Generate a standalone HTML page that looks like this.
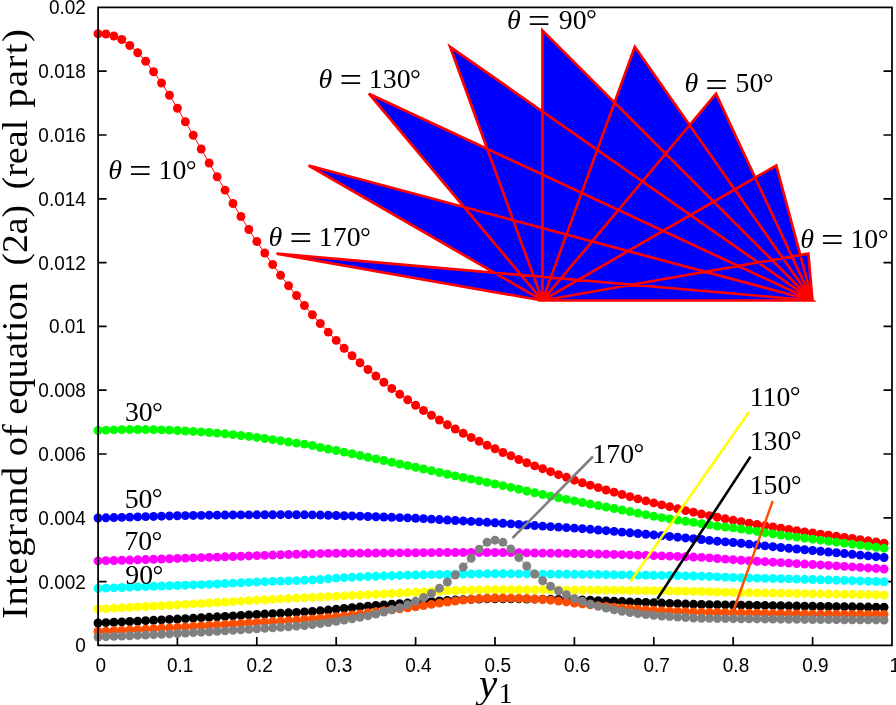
<!DOCTYPE html>
<html><head><meta charset="utf-8"><title>plot</title>
<style>
html,body{margin:0;padding:0;background:#fff;}
body{width:896px;height:705px;overflow:hidden;}
svg{display:block;}
.s,.t{filter:grayscale(1);}
.t{font-family:"Liberation Sans",sans-serif;font-size:19px;fill:#000;}
.s{font-family:"Liberation Serif",serif;fill:#000;}
</style></head><body>
<svg width="896" height="705" viewBox="0 0 896 705">
<rect x="0" y="0" width="896" height="705" fill="#fff"/>
<text class="t" transform="translate(85.9,652.30) scale(1,1.08)" text-anchor="end">0</text>
<text class="t" transform="translate(85.9,588.50) scale(1,1.08)" text-anchor="end">0.002</text>
<text class="t" transform="translate(85.9,524.70) scale(1,1.08)" text-anchor="end">0.004</text>
<text class="t" transform="translate(85.9,460.90) scale(1,1.08)" text-anchor="end">0.006</text>
<text class="t" transform="translate(85.9,397.10) scale(1,1.08)" text-anchor="end">0.008</text>
<text class="t" transform="translate(85.9,333.30) scale(1,1.08)" text-anchor="end">0.01</text>
<text class="t" transform="translate(85.9,269.50) scale(1,1.08)" text-anchor="end">0.012</text>
<text class="t" transform="translate(85.9,205.70) scale(1,1.08)" text-anchor="end">0.014</text>
<text class="t" transform="translate(85.9,141.90) scale(1,1.08)" text-anchor="end">0.016</text>
<text class="t" transform="translate(85.9,78.10) scale(1,1.08)" text-anchor="end">0.018</text>
<text class="t" transform="translate(85.9,14.30) scale(1,1.08)" text-anchor="end">0.02</text>
<text class="t" transform="translate(100.80,672.0) scale(1,1.06)" text-anchor="middle">0</text>
<text class="t" transform="translate(180.20,672.0) scale(1,1.06)" text-anchor="middle">0.1</text>
<text class="t" transform="translate(259.60,672.0) scale(1,1.06)" text-anchor="middle">0.2</text>
<text class="t" transform="translate(339.00,672.0) scale(1,1.06)" text-anchor="middle">0.3</text>
<text class="t" transform="translate(418.40,672.0) scale(1,1.06)" text-anchor="middle">0.4</text>
<text class="t" transform="translate(497.80,672.0) scale(1,1.06)" text-anchor="middle">0.5</text>
<text class="t" transform="translate(577.20,672.0) scale(1,1.06)" text-anchor="middle">0.6</text>
<text class="t" transform="translate(656.60,672.0) scale(1,1.06)" text-anchor="middle">0.7</text>
<text class="t" transform="translate(736.00,672.0) scale(1,1.06)" text-anchor="middle">0.8</text>
<text class="t" transform="translate(815.40,672.0) scale(1,1.06)" text-anchor="middle">0.9</text>
<text class="t" transform="translate(894.80,672.0) scale(1,1.06)" text-anchor="middle">1</text>
<path d="M542.45 300.50L812.45 300.50L808.35 253.61ZM542.45 300.50L812.45 300.50L776.28 165.50ZM542.45 300.50L812.45 300.50L716.00 93.67ZM542.45 300.50L812.45 300.50L634.80 46.78ZM542.45 300.50L812.45 300.50L542.45 30.50ZM542.45 300.50L812.45 300.50L450.10 46.78ZM542.45 300.50L812.45 300.50L368.90 93.67ZM542.45 300.50L812.45 300.50L308.62 165.50ZM542.45 300.50L812.45 300.50L276.55 253.61Z" fill="#0000ff" stroke="none"/>
<path d="M542.45 300.50L812.45 300.50L808.35 253.61ZM542.45 300.50L812.45 300.50L776.28 165.50ZM542.45 300.50L812.45 300.50L716.00 93.67ZM542.45 300.50L812.45 300.50L634.80 46.78ZM542.45 300.50L812.45 300.50L542.45 30.50ZM542.45 300.50L812.45 300.50L450.10 46.78ZM542.45 300.50L812.45 300.50L368.90 93.67ZM542.45 300.50L812.45 300.50L308.62 165.50ZM542.45 300.50L812.45 300.50L276.55 253.61Z" fill="none" stroke="#ff0000" stroke-width="2.7" stroke-linejoin="miter" stroke-miterlimit="4"/>
<path d="M98.1 581.60h8.5M892.0 581.60h-8.5M98.1 517.80h8.5M892.0 517.80h-8.5M98.1 454.00h8.5M892.0 454.00h-8.5M98.1 390.20h8.5M892.0 390.20h-8.5M98.1 326.40h8.5M892.0 326.40h-8.5M98.1 262.60h8.5M892.0 262.60h-8.5M98.1 198.80h8.5M892.0 198.80h-8.5M98.1 135.00h8.5M892.0 135.00h-8.5M98.1 71.20h8.5M892.0 71.20h-8.5M177.40 645.4v-8.5M256.80 645.4v-8.5M336.20 645.4v-8.5M415.60 645.4v-8.5M495.00 645.4v-8.5M574.40 645.4v-8.5M653.80 645.4v-8.5M733.20 645.4v-8.5M812.60 645.4v-8.5" stroke="#000" stroke-width="1.7" fill="none"/>
<g fill="#ff0000" stroke="none"><polyline points="98.00,33.75 105.94,34.00 113.88,36.00 121.82,39.50 129.76,45.50 137.70,52.75 145.64,61.25 153.58,71.75 161.52,83.00 169.46,95.25 177.40,108.25 185.34,121.75 193.28,135.25 201.22,149.00 209.16,163.00 217.10,176.75 225.04,190.10 232.98,203.50 240.92,216.50 248.86,229.50 256.80,241.50 264.74,253.00 272.68,264.50 280.62,275.25 288.56,285.75 296.50,295.50 304.44,305.50 312.38,314.75 320.32,323.50 328.26,332.10 336.20,340.40 344.14,348.25 352.08,355.75 360.02,362.75 367.96,369.50 375.90,376.00 383.84,382.25 391.78,388.50 399.72,394.25 407.66,399.75 415.60,405.25 423.54,410.50 431.48,415.25 439.42,420.00 447.36,424.75 455.30,429.00 463.24,433.25 471.18,437.50 479.12,441.25 487.06,445.25 495.00,448.75 502.94,452.50 510.88,455.75 518.82,459.50 526.76,462.75 534.70,465.90 542.64,468.70 550.58,471.70 558.52,474.70 566.46,477.30 574.40,480.20 582.34,482.80 590.28,485.20 598.22,487.60 606.16,490.00 614.10,492.20 622.04,494.50 629.98,496.70 637.92,498.90 645.86,500.90 653.80,502.90 661.74,504.90 669.68,506.70 677.62,508.80 685.56,510.60 693.50,512.20 701.44,514.00 709.38,515.60 717.32,517.20 725.26,518.78 733.20,520.30 741.14,521.72 749.08,523.10 757.02,524.43 764.96,525.73 772.90,527.00 780.84,528.25 788.78,529.47 796.72,530.67 804.66,531.84 812.60,533.00 820.54,534.12 828.48,535.22 836.42,536.30 844.36,537.38 852.30,538.50 860.24,539.65 868.18,540.81 876.12,542.00 884.06,543.20" fill="none" stroke="#ff0000" stroke-width="1.0"/><circle cx="98.00" cy="33.75" r="4.45"/><circle cx="105.94" cy="34.00" r="4.45"/><circle cx="113.88" cy="36.00" r="4.45"/><circle cx="121.82" cy="39.50" r="4.45"/><circle cx="129.76" cy="45.50" r="4.45"/><circle cx="137.70" cy="52.75" r="4.45"/><circle cx="145.64" cy="61.25" r="4.45"/><circle cx="153.58" cy="71.75" r="4.45"/><circle cx="161.52" cy="83.00" r="4.45"/><circle cx="169.46" cy="95.25" r="4.45"/><circle cx="177.40" cy="108.25" r="4.45"/><circle cx="185.34" cy="121.75" r="4.45"/><circle cx="193.28" cy="135.25" r="4.45"/><circle cx="201.22" cy="149.00" r="4.45"/><circle cx="209.16" cy="163.00" r="4.45"/><circle cx="217.10" cy="176.75" r="4.45"/><circle cx="225.04" cy="190.10" r="4.45"/><circle cx="232.98" cy="203.50" r="4.45"/><circle cx="240.92" cy="216.50" r="4.45"/><circle cx="248.86" cy="229.50" r="4.45"/><circle cx="256.80" cy="241.50" r="4.45"/><circle cx="264.74" cy="253.00" r="4.45"/><circle cx="272.68" cy="264.50" r="4.45"/><circle cx="280.62" cy="275.25" r="4.45"/><circle cx="288.56" cy="285.75" r="4.45"/><circle cx="296.50" cy="295.50" r="4.45"/><circle cx="304.44" cy="305.50" r="4.45"/><circle cx="312.38" cy="314.75" r="4.45"/><circle cx="320.32" cy="323.50" r="4.45"/><circle cx="328.26" cy="332.10" r="4.45"/><circle cx="336.20" cy="340.40" r="4.45"/><circle cx="344.14" cy="348.25" r="4.45"/><circle cx="352.08" cy="355.75" r="4.45"/><circle cx="360.02" cy="362.75" r="4.45"/><circle cx="367.96" cy="369.50" r="4.45"/><circle cx="375.90" cy="376.00" r="4.45"/><circle cx="383.84" cy="382.25" r="4.45"/><circle cx="391.78" cy="388.50" r="4.45"/><circle cx="399.72" cy="394.25" r="4.45"/><circle cx="407.66" cy="399.75" r="4.45"/><circle cx="415.60" cy="405.25" r="4.45"/><circle cx="423.54" cy="410.50" r="4.45"/><circle cx="431.48" cy="415.25" r="4.45"/><circle cx="439.42" cy="420.00" r="4.45"/><circle cx="447.36" cy="424.75" r="4.45"/><circle cx="455.30" cy="429.00" r="4.45"/><circle cx="463.24" cy="433.25" r="4.45"/><circle cx="471.18" cy="437.50" r="4.45"/><circle cx="479.12" cy="441.25" r="4.45"/><circle cx="487.06" cy="445.25" r="4.45"/><circle cx="495.00" cy="448.75" r="4.45"/><circle cx="502.94" cy="452.50" r="4.45"/><circle cx="510.88" cy="455.75" r="4.45"/><circle cx="518.82" cy="459.50" r="4.45"/><circle cx="526.76" cy="462.75" r="4.45"/><circle cx="534.70" cy="465.90" r="4.45"/><circle cx="542.64" cy="468.70" r="4.45"/><circle cx="550.58" cy="471.70" r="4.45"/><circle cx="558.52" cy="474.70" r="4.45"/><circle cx="566.46" cy="477.30" r="4.45"/><circle cx="574.40" cy="480.20" r="4.45"/><circle cx="582.34" cy="482.80" r="4.45"/><circle cx="590.28" cy="485.20" r="4.45"/><circle cx="598.22" cy="487.60" r="4.45"/><circle cx="606.16" cy="490.00" r="4.45"/><circle cx="614.10" cy="492.20" r="4.45"/><circle cx="622.04" cy="494.50" r="4.45"/><circle cx="629.98" cy="496.70" r="4.45"/><circle cx="637.92" cy="498.90" r="4.45"/><circle cx="645.86" cy="500.90" r="4.45"/><circle cx="653.80" cy="502.90" r="4.45"/><circle cx="661.74" cy="504.90" r="4.45"/><circle cx="669.68" cy="506.70" r="4.45"/><circle cx="677.62" cy="508.80" r="4.45"/><circle cx="685.56" cy="510.60" r="4.45"/><circle cx="693.50" cy="512.20" r="4.45"/><circle cx="701.44" cy="514.00" r="4.45"/><circle cx="709.38" cy="515.60" r="4.45"/><circle cx="717.32" cy="517.20" r="4.45"/><circle cx="725.26" cy="518.78" r="4.45"/><circle cx="733.20" cy="520.30" r="4.45"/><circle cx="741.14" cy="521.72" r="4.45"/><circle cx="749.08" cy="523.10" r="4.45"/><circle cx="757.02" cy="524.43" r="4.45"/><circle cx="764.96" cy="525.73" r="4.45"/><circle cx="772.90" cy="527.00" r="4.45"/><circle cx="780.84" cy="528.25" r="4.45"/><circle cx="788.78" cy="529.47" r="4.45"/><circle cx="796.72" cy="530.67" r="4.45"/><circle cx="804.66" cy="531.84" r="4.45"/><circle cx="812.60" cy="533.00" r="4.45"/><circle cx="820.54" cy="534.12" r="4.45"/><circle cx="828.48" cy="535.22" r="4.45"/><circle cx="836.42" cy="536.30" r="4.45"/><circle cx="844.36" cy="537.38" r="4.45"/><circle cx="852.30" cy="538.50" r="4.45"/><circle cx="860.24" cy="539.65" r="4.45"/><circle cx="868.18" cy="540.81" r="4.45"/><circle cx="876.12" cy="542.00" r="4.45"/><circle cx="884.06" cy="543.20" r="4.45"/></g>
<g fill="#00ff00" stroke="none"><polyline points="98.00,430.50 105.94,430.16 113.88,429.90 121.82,429.71 129.76,429.56 137.70,429.50 145.64,429.56 153.58,429.71 161.52,429.90 169.46,430.17 177.40,430.54 185.34,430.98 193.28,431.43 201.22,431.93 209.16,432.48 217.10,433.10 225.04,433.81 232.98,434.63 240.92,435.50 248.86,436.43 256.80,437.44 264.74,438.50 272.68,439.63 280.62,440.81 288.56,442.00 296.50,443.08 304.44,444.17 312.38,445.50 320.32,447.50 328.26,449.05 336.20,450.50 344.14,452.09 352.08,453.75 360.02,455.50 367.96,457.25 375.90,458.88 383.84,460.50 391.78,462.25 399.72,464.00 407.66,465.62 415.60,467.25 423.54,468.98 431.48,470.75 439.42,472.52 447.36,474.25 455.30,475.89 463.24,477.50 471.18,479.12 479.12,480.75 487.06,482.36 495.00,484.00 502.94,485.70 510.88,487.45 518.82,489.20 526.76,490.98 534.70,492.77 542.64,494.50 550.58,496.16 558.52,497.79 566.46,499.38 574.40,500.95 582.34,502.50 590.28,504.03 598.22,505.53 606.16,507.02 614.10,508.50 622.04,510.00 629.98,511.54 637.92,513.12 645.86,514.68 653.80,516.19 661.74,517.60 669.68,518.89 677.62,520.09 685.56,521.25 693.50,522.40 701.44,523.60 709.38,524.90 717.32,526.10 725.26,527.01 733.20,527.90 741.14,528.99 749.08,530.20 757.02,531.46 764.96,532.72 772.90,533.90 780.84,535.01 788.78,536.09 796.72,537.14 804.66,538.18 812.60,539.20 820.54,540.20 828.48,541.17 836.42,542.13 844.36,543.10 852.30,544.10 860.24,545.12 868.18,546.17 876.12,547.23 884.06,548.30" fill="none" stroke="#00ff00" stroke-width="1.0"/><circle cx="98.00" cy="430.50" r="4.45"/><circle cx="105.94" cy="430.16" r="4.45"/><circle cx="113.88" cy="429.90" r="4.45"/><circle cx="121.82" cy="429.71" r="4.45"/><circle cx="129.76" cy="429.56" r="4.45"/><circle cx="137.70" cy="429.50" r="4.45"/><circle cx="145.64" cy="429.56" r="4.45"/><circle cx="153.58" cy="429.71" r="4.45"/><circle cx="161.52" cy="429.90" r="4.45"/><circle cx="169.46" cy="430.17" r="4.45"/><circle cx="177.40" cy="430.54" r="4.45"/><circle cx="185.34" cy="430.98" r="4.45"/><circle cx="193.28" cy="431.43" r="4.45"/><circle cx="201.22" cy="431.93" r="4.45"/><circle cx="209.16" cy="432.48" r="4.45"/><circle cx="217.10" cy="433.10" r="4.45"/><circle cx="225.04" cy="433.81" r="4.45"/><circle cx="232.98" cy="434.63" r="4.45"/><circle cx="240.92" cy="435.50" r="4.45"/><circle cx="248.86" cy="436.43" r="4.45"/><circle cx="256.80" cy="437.44" r="4.45"/><circle cx="264.74" cy="438.50" r="4.45"/><circle cx="272.68" cy="439.63" r="4.45"/><circle cx="280.62" cy="440.81" r="4.45"/><circle cx="288.56" cy="442.00" r="4.45"/><circle cx="296.50" cy="443.08" r="4.45"/><circle cx="304.44" cy="444.17" r="4.45"/><circle cx="312.38" cy="445.50" r="4.45"/><circle cx="320.32" cy="447.50" r="4.45"/><circle cx="328.26" cy="449.05" r="4.45"/><circle cx="336.20" cy="450.50" r="4.45"/><circle cx="344.14" cy="452.09" r="4.45"/><circle cx="352.08" cy="453.75" r="4.45"/><circle cx="360.02" cy="455.50" r="4.45"/><circle cx="367.96" cy="457.25" r="4.45"/><circle cx="375.90" cy="458.88" r="4.45"/><circle cx="383.84" cy="460.50" r="4.45"/><circle cx="391.78" cy="462.25" r="4.45"/><circle cx="399.72" cy="464.00" r="4.45"/><circle cx="407.66" cy="465.62" r="4.45"/><circle cx="415.60" cy="467.25" r="4.45"/><circle cx="423.54" cy="468.98" r="4.45"/><circle cx="431.48" cy="470.75" r="4.45"/><circle cx="439.42" cy="472.52" r="4.45"/><circle cx="447.36" cy="474.25" r="4.45"/><circle cx="455.30" cy="475.89" r="4.45"/><circle cx="463.24" cy="477.50" r="4.45"/><circle cx="471.18" cy="479.12" r="4.45"/><circle cx="479.12" cy="480.75" r="4.45"/><circle cx="487.06" cy="482.36" r="4.45"/><circle cx="495.00" cy="484.00" r="4.45"/><circle cx="502.94" cy="485.70" r="4.45"/><circle cx="510.88" cy="487.45" r="4.45"/><circle cx="518.82" cy="489.20" r="4.45"/><circle cx="526.76" cy="490.98" r="4.45"/><circle cx="534.70" cy="492.77" r="4.45"/><circle cx="542.64" cy="494.50" r="4.45"/><circle cx="550.58" cy="496.16" r="4.45"/><circle cx="558.52" cy="497.79" r="4.45"/><circle cx="566.46" cy="499.38" r="4.45"/><circle cx="574.40" cy="500.95" r="4.45"/><circle cx="582.34" cy="502.50" r="4.45"/><circle cx="590.28" cy="504.03" r="4.45"/><circle cx="598.22" cy="505.53" r="4.45"/><circle cx="606.16" cy="507.02" r="4.45"/><circle cx="614.10" cy="508.50" r="4.45"/><circle cx="622.04" cy="510.00" r="4.45"/><circle cx="629.98" cy="511.54" r="4.45"/><circle cx="637.92" cy="513.12" r="4.45"/><circle cx="645.86" cy="514.68" r="4.45"/><circle cx="653.80" cy="516.19" r="4.45"/><circle cx="661.74" cy="517.60" r="4.45"/><circle cx="669.68" cy="518.89" r="4.45"/><circle cx="677.62" cy="520.09" r="4.45"/><circle cx="685.56" cy="521.25" r="4.45"/><circle cx="693.50" cy="522.40" r="4.45"/><circle cx="701.44" cy="523.60" r="4.45"/><circle cx="709.38" cy="524.90" r="4.45"/><circle cx="717.32" cy="526.10" r="4.45"/><circle cx="725.26" cy="527.01" r="4.45"/><circle cx="733.20" cy="527.90" r="4.45"/><circle cx="741.14" cy="528.99" r="4.45"/><circle cx="749.08" cy="530.20" r="4.45"/><circle cx="757.02" cy="531.46" r="4.45"/><circle cx="764.96" cy="532.72" r="4.45"/><circle cx="772.90" cy="533.90" r="4.45"/><circle cx="780.84" cy="535.01" r="4.45"/><circle cx="788.78" cy="536.09" r="4.45"/><circle cx="796.72" cy="537.14" r="4.45"/><circle cx="804.66" cy="538.18" r="4.45"/><circle cx="812.60" cy="539.20" r="4.45"/><circle cx="820.54" cy="540.20" r="4.45"/><circle cx="828.48" cy="541.17" r="4.45"/><circle cx="836.42" cy="542.13" r="4.45"/><circle cx="844.36" cy="543.10" r="4.45"/><circle cx="852.30" cy="544.10" r="4.45"/><circle cx="860.24" cy="545.12" r="4.45"/><circle cx="868.18" cy="546.17" r="4.45"/><circle cx="876.12" cy="547.23" r="4.45"/><circle cx="884.06" cy="548.30" r="4.45"/></g>
<g fill="#0000ff" stroke="none"><polyline points="98.00,518.00 105.94,517.78 113.88,517.56 121.82,517.34 129.76,517.12 137.70,516.90 145.64,516.67 153.58,516.44 161.52,516.20 169.46,515.97 177.40,515.76 185.34,515.59 193.28,515.45 201.22,515.33 209.16,515.22 217.10,515.12 225.04,515.03 232.98,514.96 240.92,514.90 248.86,514.85 256.80,514.80 264.74,514.76 272.68,514.73 280.62,514.71 288.56,514.70 296.50,514.73 304.44,514.80 312.38,514.90 320.32,515.05 328.26,515.27 336.20,515.50 344.14,515.73 352.08,515.97 360.02,516.22 367.96,516.48 375.90,516.75 383.84,517.02 391.78,517.30 399.72,517.59 407.66,517.91 415.60,518.25 423.54,518.64 431.48,519.08 439.42,519.55 447.36,520.03 455.30,520.50 463.24,520.95 471.18,521.40 479.12,521.85 487.06,522.31 495.00,522.80 502.94,523.32 510.88,523.86 518.82,524.42 526.76,524.99 534.70,525.55 542.64,526.10 550.58,526.62 558.52,527.12 566.46,527.62 574.40,528.14 582.34,528.70 590.28,529.32 598.22,529.99 606.16,530.68 614.10,531.39 622.04,532.10 629.98,532.80 637.92,533.52 645.86,534.24 653.80,534.96 661.74,535.70 669.68,536.44 677.62,537.18 685.56,537.93 693.50,538.71 701.44,539.50 709.38,540.37 717.32,541.20 725.26,541.85 733.20,542.50 741.14,543.27 749.08,544.11 757.02,544.99 764.96,545.87 772.90,546.70 780.84,547.48 788.78,548.25 796.72,549.00 804.66,549.75 812.60,550.50 820.54,551.26 828.48,552.01 836.42,552.77 844.36,553.53 852.30,554.30 860.24,555.09 868.18,555.88 876.12,556.69 884.06,557.50" fill="none" stroke="#0000ff" stroke-width="1.0"/><circle cx="98.00" cy="518.00" r="4.45"/><circle cx="105.94" cy="517.78" r="4.45"/><circle cx="113.88" cy="517.56" r="4.45"/><circle cx="121.82" cy="517.34" r="4.45"/><circle cx="129.76" cy="517.12" r="4.45"/><circle cx="137.70" cy="516.90" r="4.45"/><circle cx="145.64" cy="516.67" r="4.45"/><circle cx="153.58" cy="516.44" r="4.45"/><circle cx="161.52" cy="516.20" r="4.45"/><circle cx="169.46" cy="515.97" r="4.45"/><circle cx="177.40" cy="515.76" r="4.45"/><circle cx="185.34" cy="515.59" r="4.45"/><circle cx="193.28" cy="515.45" r="4.45"/><circle cx="201.22" cy="515.33" r="4.45"/><circle cx="209.16" cy="515.22" r="4.45"/><circle cx="217.10" cy="515.12" r="4.45"/><circle cx="225.04" cy="515.03" r="4.45"/><circle cx="232.98" cy="514.96" r="4.45"/><circle cx="240.92" cy="514.90" r="4.45"/><circle cx="248.86" cy="514.85" r="4.45"/><circle cx="256.80" cy="514.80" r="4.45"/><circle cx="264.74" cy="514.76" r="4.45"/><circle cx="272.68" cy="514.73" r="4.45"/><circle cx="280.62" cy="514.71" r="4.45"/><circle cx="288.56" cy="514.70" r="4.45"/><circle cx="296.50" cy="514.73" r="4.45"/><circle cx="304.44" cy="514.80" r="4.45"/><circle cx="312.38" cy="514.90" r="4.45"/><circle cx="320.32" cy="515.05" r="4.45"/><circle cx="328.26" cy="515.27" r="4.45"/><circle cx="336.20" cy="515.50" r="4.45"/><circle cx="344.14" cy="515.73" r="4.45"/><circle cx="352.08" cy="515.97" r="4.45"/><circle cx="360.02" cy="516.22" r="4.45"/><circle cx="367.96" cy="516.48" r="4.45"/><circle cx="375.90" cy="516.75" r="4.45"/><circle cx="383.84" cy="517.02" r="4.45"/><circle cx="391.78" cy="517.30" r="4.45"/><circle cx="399.72" cy="517.59" r="4.45"/><circle cx="407.66" cy="517.91" r="4.45"/><circle cx="415.60" cy="518.25" r="4.45"/><circle cx="423.54" cy="518.64" r="4.45"/><circle cx="431.48" cy="519.08" r="4.45"/><circle cx="439.42" cy="519.55" r="4.45"/><circle cx="447.36" cy="520.03" r="4.45"/><circle cx="455.30" cy="520.50" r="4.45"/><circle cx="463.24" cy="520.95" r="4.45"/><circle cx="471.18" cy="521.40" r="4.45"/><circle cx="479.12" cy="521.85" r="4.45"/><circle cx="487.06" cy="522.31" r="4.45"/><circle cx="495.00" cy="522.80" r="4.45"/><circle cx="502.94" cy="523.32" r="4.45"/><circle cx="510.88" cy="523.86" r="4.45"/><circle cx="518.82" cy="524.42" r="4.45"/><circle cx="526.76" cy="524.99" r="4.45"/><circle cx="534.70" cy="525.55" r="4.45"/><circle cx="542.64" cy="526.10" r="4.45"/><circle cx="550.58" cy="526.62" r="4.45"/><circle cx="558.52" cy="527.12" r="4.45"/><circle cx="566.46" cy="527.62" r="4.45"/><circle cx="574.40" cy="528.14" r="4.45"/><circle cx="582.34" cy="528.70" r="4.45"/><circle cx="590.28" cy="529.32" r="4.45"/><circle cx="598.22" cy="529.99" r="4.45"/><circle cx="606.16" cy="530.68" r="4.45"/><circle cx="614.10" cy="531.39" r="4.45"/><circle cx="622.04" cy="532.10" r="4.45"/><circle cx="629.98" cy="532.80" r="4.45"/><circle cx="637.92" cy="533.52" r="4.45"/><circle cx="645.86" cy="534.24" r="4.45"/><circle cx="653.80" cy="534.96" r="4.45"/><circle cx="661.74" cy="535.70" r="4.45"/><circle cx="669.68" cy="536.44" r="4.45"/><circle cx="677.62" cy="537.18" r="4.45"/><circle cx="685.56" cy="537.93" r="4.45"/><circle cx="693.50" cy="538.71" r="4.45"/><circle cx="701.44" cy="539.50" r="4.45"/><circle cx="709.38" cy="540.37" r="4.45"/><circle cx="717.32" cy="541.20" r="4.45"/><circle cx="725.26" cy="541.85" r="4.45"/><circle cx="733.20" cy="542.50" r="4.45"/><circle cx="741.14" cy="543.27" r="4.45"/><circle cx="749.08" cy="544.11" r="4.45"/><circle cx="757.02" cy="544.99" r="4.45"/><circle cx="764.96" cy="545.87" r="4.45"/><circle cx="772.90" cy="546.70" r="4.45"/><circle cx="780.84" cy="547.48" r="4.45"/><circle cx="788.78" cy="548.25" r="4.45"/><circle cx="796.72" cy="549.00" r="4.45"/><circle cx="804.66" cy="549.75" r="4.45"/><circle cx="812.60" cy="550.50" r="4.45"/><circle cx="820.54" cy="551.26" r="4.45"/><circle cx="828.48" cy="552.01" r="4.45"/><circle cx="836.42" cy="552.77" r="4.45"/><circle cx="844.36" cy="553.53" r="4.45"/><circle cx="852.30" cy="554.30" r="4.45"/><circle cx="860.24" cy="555.09" r="4.45"/><circle cx="868.18" cy="555.88" r="4.45"/><circle cx="876.12" cy="556.69" r="4.45"/><circle cx="884.06" cy="557.50" r="4.45"/></g>
<g fill="#ff00ff" stroke="none"><polyline points="98.00,560.90 105.94,560.70 113.88,560.49 121.82,560.27 129.76,560.04 137.70,559.80 145.64,559.55 153.58,559.28 161.52,559.01 169.46,558.73 177.40,558.45 185.34,558.17 193.28,557.89 201.22,557.62 209.16,557.35 217.10,557.08 225.04,556.81 232.98,556.53 240.92,556.25 248.86,555.96 256.80,555.66 264.74,555.36 272.68,555.06 280.62,554.77 288.56,554.50 296.50,554.25 304.44,554.02 312.38,553.80 320.32,553.58 328.26,553.38 336.20,553.25 344.14,553.18 352.08,553.13 360.02,553.08 367.96,553.04 375.90,553.00 383.84,552.95 391.78,552.90 399.72,552.85 407.66,552.80 415.60,552.75 423.54,552.69 431.48,552.63 439.42,552.56 447.36,552.52 455.30,552.50 463.24,552.50 471.18,552.50 479.12,552.50 487.06,552.50 495.00,552.50 502.94,552.53 510.88,552.61 518.82,552.73 526.76,552.86 534.70,552.99 542.64,553.10 550.58,553.19 558.52,553.28 566.46,553.37 574.40,553.48 582.34,553.60 590.28,553.77 598.22,553.98 606.16,554.21 614.10,554.46 622.04,554.70 629.98,554.93 637.92,555.16 645.86,555.40 653.80,555.64 661.74,555.90 669.68,556.16 677.62,556.43 685.56,556.71 693.50,557.03 701.44,557.40 709.38,557.88 717.32,558.48 725.26,559.11 733.20,559.70 741.14,560.23 749.08,560.74 757.02,561.23 764.96,561.72 772.90,562.20 780.84,562.67 788.78,563.13 796.72,563.58 804.66,564.04 812.60,564.50 820.54,564.97 828.48,565.44 836.42,565.92 844.36,566.40 852.30,566.90 860.24,567.41 868.18,567.93 876.12,568.46 884.06,569.00" fill="none" stroke="#ff00ff" stroke-width="1.0"/><circle cx="98.00" cy="560.90" r="4.45"/><circle cx="105.94" cy="560.70" r="4.45"/><circle cx="113.88" cy="560.49" r="4.45"/><circle cx="121.82" cy="560.27" r="4.45"/><circle cx="129.76" cy="560.04" r="4.45"/><circle cx="137.70" cy="559.80" r="4.45"/><circle cx="145.64" cy="559.55" r="4.45"/><circle cx="153.58" cy="559.28" r="4.45"/><circle cx="161.52" cy="559.01" r="4.45"/><circle cx="169.46" cy="558.73" r="4.45"/><circle cx="177.40" cy="558.45" r="4.45"/><circle cx="185.34" cy="558.17" r="4.45"/><circle cx="193.28" cy="557.89" r="4.45"/><circle cx="201.22" cy="557.62" r="4.45"/><circle cx="209.16" cy="557.35" r="4.45"/><circle cx="217.10" cy="557.08" r="4.45"/><circle cx="225.04" cy="556.81" r="4.45"/><circle cx="232.98" cy="556.53" r="4.45"/><circle cx="240.92" cy="556.25" r="4.45"/><circle cx="248.86" cy="555.96" r="4.45"/><circle cx="256.80" cy="555.66" r="4.45"/><circle cx="264.74" cy="555.36" r="4.45"/><circle cx="272.68" cy="555.06" r="4.45"/><circle cx="280.62" cy="554.77" r="4.45"/><circle cx="288.56" cy="554.50" r="4.45"/><circle cx="296.50" cy="554.25" r="4.45"/><circle cx="304.44" cy="554.02" r="4.45"/><circle cx="312.38" cy="553.80" r="4.45"/><circle cx="320.32" cy="553.58" r="4.45"/><circle cx="328.26" cy="553.38" r="4.45"/><circle cx="336.20" cy="553.25" r="4.45"/><circle cx="344.14" cy="553.18" r="4.45"/><circle cx="352.08" cy="553.13" r="4.45"/><circle cx="360.02" cy="553.08" r="4.45"/><circle cx="367.96" cy="553.04" r="4.45"/><circle cx="375.90" cy="553.00" r="4.45"/><circle cx="383.84" cy="552.95" r="4.45"/><circle cx="391.78" cy="552.90" r="4.45"/><circle cx="399.72" cy="552.85" r="4.45"/><circle cx="407.66" cy="552.80" r="4.45"/><circle cx="415.60" cy="552.75" r="4.45"/><circle cx="423.54" cy="552.69" r="4.45"/><circle cx="431.48" cy="552.63" r="4.45"/><circle cx="439.42" cy="552.56" r="4.45"/><circle cx="447.36" cy="552.52" r="4.45"/><circle cx="455.30" cy="552.50" r="4.45"/><circle cx="463.24" cy="552.50" r="4.45"/><circle cx="471.18" cy="552.50" r="4.45"/><circle cx="479.12" cy="552.50" r="4.45"/><circle cx="487.06" cy="552.50" r="4.45"/><circle cx="495.00" cy="552.50" r="4.45"/><circle cx="502.94" cy="552.53" r="4.45"/><circle cx="510.88" cy="552.61" r="4.45"/><circle cx="518.82" cy="552.73" r="4.45"/><circle cx="526.76" cy="552.86" r="4.45"/><circle cx="534.70" cy="552.99" r="4.45"/><circle cx="542.64" cy="553.10" r="4.45"/><circle cx="550.58" cy="553.19" r="4.45"/><circle cx="558.52" cy="553.28" r="4.45"/><circle cx="566.46" cy="553.37" r="4.45"/><circle cx="574.40" cy="553.48" r="4.45"/><circle cx="582.34" cy="553.60" r="4.45"/><circle cx="590.28" cy="553.77" r="4.45"/><circle cx="598.22" cy="553.98" r="4.45"/><circle cx="606.16" cy="554.21" r="4.45"/><circle cx="614.10" cy="554.46" r="4.45"/><circle cx="622.04" cy="554.70" r="4.45"/><circle cx="629.98" cy="554.93" r="4.45"/><circle cx="637.92" cy="555.16" r="4.45"/><circle cx="645.86" cy="555.40" r="4.45"/><circle cx="653.80" cy="555.64" r="4.45"/><circle cx="661.74" cy="555.90" r="4.45"/><circle cx="669.68" cy="556.16" r="4.45"/><circle cx="677.62" cy="556.43" r="4.45"/><circle cx="685.56" cy="556.71" r="4.45"/><circle cx="693.50" cy="557.03" r="4.45"/><circle cx="701.44" cy="557.40" r="4.45"/><circle cx="709.38" cy="557.88" r="4.45"/><circle cx="717.32" cy="558.48" r="4.45"/><circle cx="725.26" cy="559.11" r="4.45"/><circle cx="733.20" cy="559.70" r="4.45"/><circle cx="741.14" cy="560.23" r="4.45"/><circle cx="749.08" cy="560.74" r="4.45"/><circle cx="757.02" cy="561.23" r="4.45"/><circle cx="764.96" cy="561.72" r="4.45"/><circle cx="772.90" cy="562.20" r="4.45"/><circle cx="780.84" cy="562.67" r="4.45"/><circle cx="788.78" cy="563.13" r="4.45"/><circle cx="796.72" cy="563.58" r="4.45"/><circle cx="804.66" cy="564.04" r="4.45"/><circle cx="812.60" cy="564.50" r="4.45"/><circle cx="820.54" cy="564.97" r="4.45"/><circle cx="828.48" cy="565.44" r="4.45"/><circle cx="836.42" cy="565.92" r="4.45"/><circle cx="844.36" cy="566.40" r="4.45"/><circle cx="852.30" cy="566.90" r="4.45"/><circle cx="860.24" cy="567.41" r="4.45"/><circle cx="868.18" cy="567.93" r="4.45"/><circle cx="876.12" cy="568.46" r="4.45"/><circle cx="884.06" cy="569.00" r="4.45"/></g>
<g fill="#00ffff" stroke="none"><polyline points="98.00,588.50 105.94,588.17 113.88,587.84 121.82,587.52 129.76,587.21 137.70,586.90 145.64,586.60 153.58,586.30 161.52,586.02 169.46,585.75 177.40,585.49 185.34,585.22 193.28,584.95 201.22,584.66 209.16,584.33 217.10,583.97 225.04,583.57 232.98,583.17 240.92,582.76 248.86,582.37 256.80,582.00 264.74,581.68 272.68,581.40 280.62,581.13 288.56,580.87 296.50,580.60 304.44,580.29 312.38,579.93 320.32,579.50 328.26,578.81 336.20,578.10 344.14,577.63 352.08,577.23 360.02,576.87 367.96,576.55 375.90,576.25 383.84,575.96 391.78,575.69 399.72,575.43 407.66,575.20 415.60,575.00 423.54,574.82 431.48,574.66 439.42,574.51 447.36,574.37 455.30,574.25 463.24,574.12 471.18,573.99 479.12,573.87 487.06,573.78 495.00,573.75 502.94,573.77 510.88,573.82 518.82,573.88 526.76,573.96 534.70,574.04 542.64,574.10 550.58,574.15 558.52,574.19 566.46,574.24 574.40,574.30 582.34,574.38 590.28,574.47 598.22,574.57 606.16,574.68 614.10,574.80 622.04,574.90 629.98,575.00 637.92,575.09 645.86,575.19 653.80,575.30 661.74,575.42 669.68,575.55 677.62,575.68 685.56,575.83 693.50,576.00 701.44,576.20 709.38,576.47 717.32,576.83 725.26,577.19 733.20,577.50 741.14,577.74 749.08,577.96 757.02,578.17 764.96,578.36 772.90,578.54 780.84,578.72 788.78,578.90 796.72,579.09 804.66,579.29 812.60,579.50 820.54,579.73 828.48,579.96 836.42,580.20 844.36,580.44 852.30,580.69 860.24,580.95 868.18,581.21 876.12,581.48 884.06,581.75" fill="none" stroke="#00ffff" stroke-width="1.0"/><circle cx="98.00" cy="588.50" r="4.45"/><circle cx="105.94" cy="588.17" r="4.45"/><circle cx="113.88" cy="587.84" r="4.45"/><circle cx="121.82" cy="587.52" r="4.45"/><circle cx="129.76" cy="587.21" r="4.45"/><circle cx="137.70" cy="586.90" r="4.45"/><circle cx="145.64" cy="586.60" r="4.45"/><circle cx="153.58" cy="586.30" r="4.45"/><circle cx="161.52" cy="586.02" r="4.45"/><circle cx="169.46" cy="585.75" r="4.45"/><circle cx="177.40" cy="585.49" r="4.45"/><circle cx="185.34" cy="585.22" r="4.45"/><circle cx="193.28" cy="584.95" r="4.45"/><circle cx="201.22" cy="584.66" r="4.45"/><circle cx="209.16" cy="584.33" r="4.45"/><circle cx="217.10" cy="583.97" r="4.45"/><circle cx="225.04" cy="583.57" r="4.45"/><circle cx="232.98" cy="583.17" r="4.45"/><circle cx="240.92" cy="582.76" r="4.45"/><circle cx="248.86" cy="582.37" r="4.45"/><circle cx="256.80" cy="582.00" r="4.45"/><circle cx="264.74" cy="581.68" r="4.45"/><circle cx="272.68" cy="581.40" r="4.45"/><circle cx="280.62" cy="581.13" r="4.45"/><circle cx="288.56" cy="580.87" r="4.45"/><circle cx="296.50" cy="580.60" r="4.45"/><circle cx="304.44" cy="580.29" r="4.45"/><circle cx="312.38" cy="579.93" r="4.45"/><circle cx="320.32" cy="579.50" r="4.45"/><circle cx="328.26" cy="578.81" r="4.45"/><circle cx="336.20" cy="578.10" r="4.45"/><circle cx="344.14" cy="577.63" r="4.45"/><circle cx="352.08" cy="577.23" r="4.45"/><circle cx="360.02" cy="576.87" r="4.45"/><circle cx="367.96" cy="576.55" r="4.45"/><circle cx="375.90" cy="576.25" r="4.45"/><circle cx="383.84" cy="575.96" r="4.45"/><circle cx="391.78" cy="575.69" r="4.45"/><circle cx="399.72" cy="575.43" r="4.45"/><circle cx="407.66" cy="575.20" r="4.45"/><circle cx="415.60" cy="575.00" r="4.45"/><circle cx="423.54" cy="574.82" r="4.45"/><circle cx="431.48" cy="574.66" r="4.45"/><circle cx="439.42" cy="574.51" r="4.45"/><circle cx="447.36" cy="574.37" r="4.45"/><circle cx="455.30" cy="574.25" r="4.45"/><circle cx="463.24" cy="574.12" r="4.45"/><circle cx="471.18" cy="573.99" r="4.45"/><circle cx="479.12" cy="573.87" r="4.45"/><circle cx="487.06" cy="573.78" r="4.45"/><circle cx="495.00" cy="573.75" r="4.45"/><circle cx="502.94" cy="573.77" r="4.45"/><circle cx="510.88" cy="573.82" r="4.45"/><circle cx="518.82" cy="573.88" r="4.45"/><circle cx="526.76" cy="573.96" r="4.45"/><circle cx="534.70" cy="574.04" r="4.45"/><circle cx="542.64" cy="574.10" r="4.45"/><circle cx="550.58" cy="574.15" r="4.45"/><circle cx="558.52" cy="574.19" r="4.45"/><circle cx="566.46" cy="574.24" r="4.45"/><circle cx="574.40" cy="574.30" r="4.45"/><circle cx="582.34" cy="574.38" r="4.45"/><circle cx="590.28" cy="574.47" r="4.45"/><circle cx="598.22" cy="574.57" r="4.45"/><circle cx="606.16" cy="574.68" r="4.45"/><circle cx="614.10" cy="574.80" r="4.45"/><circle cx="622.04" cy="574.90" r="4.45"/><circle cx="629.98" cy="575.00" r="4.45"/><circle cx="637.92" cy="575.09" r="4.45"/><circle cx="645.86" cy="575.19" r="4.45"/><circle cx="653.80" cy="575.30" r="4.45"/><circle cx="661.74" cy="575.42" r="4.45"/><circle cx="669.68" cy="575.55" r="4.45"/><circle cx="677.62" cy="575.68" r="4.45"/><circle cx="685.56" cy="575.83" r="4.45"/><circle cx="693.50" cy="576.00" r="4.45"/><circle cx="701.44" cy="576.20" r="4.45"/><circle cx="709.38" cy="576.47" r="4.45"/><circle cx="717.32" cy="576.83" r="4.45"/><circle cx="725.26" cy="577.19" r="4.45"/><circle cx="733.20" cy="577.50" r="4.45"/><circle cx="741.14" cy="577.74" r="4.45"/><circle cx="749.08" cy="577.96" r="4.45"/><circle cx="757.02" cy="578.17" r="4.45"/><circle cx="764.96" cy="578.36" r="4.45"/><circle cx="772.90" cy="578.54" r="4.45"/><circle cx="780.84" cy="578.72" r="4.45"/><circle cx="788.78" cy="578.90" r="4.45"/><circle cx="796.72" cy="579.09" r="4.45"/><circle cx="804.66" cy="579.29" r="4.45"/><circle cx="812.60" cy="579.50" r="4.45"/><circle cx="820.54" cy="579.73" r="4.45"/><circle cx="828.48" cy="579.96" r="4.45"/><circle cx="836.42" cy="580.20" r="4.45"/><circle cx="844.36" cy="580.44" r="4.45"/><circle cx="852.30" cy="580.69" r="4.45"/><circle cx="860.24" cy="580.95" r="4.45"/><circle cx="868.18" cy="581.21" r="4.45"/><circle cx="876.12" cy="581.48" r="4.45"/><circle cx="884.06" cy="581.75" r="4.45"/></g>
<g fill="#ffff00" stroke="none"><polyline points="98.00,609.00 105.94,608.60 113.88,608.19 121.82,607.78 129.76,607.36 137.70,606.95 145.64,606.52 153.58,606.10 161.52,605.67 169.46,605.24 177.40,604.81 185.34,604.37 193.28,603.92 201.22,603.48 209.16,603.02 217.10,602.55 225.04,602.07 232.98,601.59 240.92,601.11 248.86,600.65 256.80,600.20 264.74,599.77 272.68,599.36 280.62,598.95 288.56,598.55 296.50,598.16 304.44,597.77 312.38,597.38 320.32,597.00 328.26,596.63 336.20,596.25 344.14,595.86 352.08,595.46 360.02,595.06 367.96,594.65 375.90,594.25 383.84,593.85 391.78,593.44 399.72,593.03 407.66,592.63 415.60,592.25 423.54,591.86 431.48,591.47 439.42,591.09 447.36,590.76 455.30,590.50 463.24,590.29 471.18,590.08 479.12,589.91 487.06,589.79 495.00,589.75 502.94,589.75 510.88,589.76 518.82,589.77 526.76,589.78 534.70,589.80 542.64,589.82 550.58,589.86 558.52,589.90 566.46,589.95 574.40,590.00 582.34,590.05 590.28,590.11 598.22,590.18 606.16,590.24 614.10,590.32 622.04,590.40 629.98,590.48 637.92,590.57 645.86,590.66 653.80,590.75 661.74,590.85 669.68,590.95 677.62,591.07 685.56,591.20 693.50,591.34 701.44,591.50 709.38,591.72 717.32,592.00 725.26,592.28 733.20,592.50 741.14,592.66 749.08,592.81 757.02,592.94 764.96,593.07 772.90,593.18 780.84,593.29 788.78,593.40 796.72,593.51 804.66,593.62 812.60,593.75 820.54,593.88 828.48,594.02 836.42,594.15 844.36,594.29 852.30,594.43 860.24,594.57 868.18,594.71 876.12,594.86 884.06,595.00" fill="none" stroke="#ffff00" stroke-width="1.0"/><circle cx="98.00" cy="609.00" r="4.45"/><circle cx="105.94" cy="608.60" r="4.45"/><circle cx="113.88" cy="608.19" r="4.45"/><circle cx="121.82" cy="607.78" r="4.45"/><circle cx="129.76" cy="607.36" r="4.45"/><circle cx="137.70" cy="606.95" r="4.45"/><circle cx="145.64" cy="606.52" r="4.45"/><circle cx="153.58" cy="606.10" r="4.45"/><circle cx="161.52" cy="605.67" r="4.45"/><circle cx="169.46" cy="605.24" r="4.45"/><circle cx="177.40" cy="604.81" r="4.45"/><circle cx="185.34" cy="604.37" r="4.45"/><circle cx="193.28" cy="603.92" r="4.45"/><circle cx="201.22" cy="603.48" r="4.45"/><circle cx="209.16" cy="603.02" r="4.45"/><circle cx="217.10" cy="602.55" r="4.45"/><circle cx="225.04" cy="602.07" r="4.45"/><circle cx="232.98" cy="601.59" r="4.45"/><circle cx="240.92" cy="601.11" r="4.45"/><circle cx="248.86" cy="600.65" r="4.45"/><circle cx="256.80" cy="600.20" r="4.45"/><circle cx="264.74" cy="599.77" r="4.45"/><circle cx="272.68" cy="599.36" r="4.45"/><circle cx="280.62" cy="598.95" r="4.45"/><circle cx="288.56" cy="598.55" r="4.45"/><circle cx="296.50" cy="598.16" r="4.45"/><circle cx="304.44" cy="597.77" r="4.45"/><circle cx="312.38" cy="597.38" r="4.45"/><circle cx="320.32" cy="597.00" r="4.45"/><circle cx="328.26" cy="596.63" r="4.45"/><circle cx="336.20" cy="596.25" r="4.45"/><circle cx="344.14" cy="595.86" r="4.45"/><circle cx="352.08" cy="595.46" r="4.45"/><circle cx="360.02" cy="595.06" r="4.45"/><circle cx="367.96" cy="594.65" r="4.45"/><circle cx="375.90" cy="594.25" r="4.45"/><circle cx="383.84" cy="593.85" r="4.45"/><circle cx="391.78" cy="593.44" r="4.45"/><circle cx="399.72" cy="593.03" r="4.45"/><circle cx="407.66" cy="592.63" r="4.45"/><circle cx="415.60" cy="592.25" r="4.45"/><circle cx="423.54" cy="591.86" r="4.45"/><circle cx="431.48" cy="591.47" r="4.45"/><circle cx="439.42" cy="591.09" r="4.45"/><circle cx="447.36" cy="590.76" r="4.45"/><circle cx="455.30" cy="590.50" r="4.45"/><circle cx="463.24" cy="590.29" r="4.45"/><circle cx="471.18" cy="590.08" r="4.45"/><circle cx="479.12" cy="589.91" r="4.45"/><circle cx="487.06" cy="589.79" r="4.45"/><circle cx="495.00" cy="589.75" r="4.45"/><circle cx="502.94" cy="589.75" r="4.45"/><circle cx="510.88" cy="589.76" r="4.45"/><circle cx="518.82" cy="589.77" r="4.45"/><circle cx="526.76" cy="589.78" r="4.45"/><circle cx="534.70" cy="589.80" r="4.45"/><circle cx="542.64" cy="589.82" r="4.45"/><circle cx="550.58" cy="589.86" r="4.45"/><circle cx="558.52" cy="589.90" r="4.45"/><circle cx="566.46" cy="589.95" r="4.45"/><circle cx="574.40" cy="590.00" r="4.45"/><circle cx="582.34" cy="590.05" r="4.45"/><circle cx="590.28" cy="590.11" r="4.45"/><circle cx="598.22" cy="590.18" r="4.45"/><circle cx="606.16" cy="590.24" r="4.45"/><circle cx="614.10" cy="590.32" r="4.45"/><circle cx="622.04" cy="590.40" r="4.45"/><circle cx="629.98" cy="590.48" r="4.45"/><circle cx="637.92" cy="590.57" r="4.45"/><circle cx="645.86" cy="590.66" r="4.45"/><circle cx="653.80" cy="590.75" r="4.45"/><circle cx="661.74" cy="590.85" r="4.45"/><circle cx="669.68" cy="590.95" r="4.45"/><circle cx="677.62" cy="591.07" r="4.45"/><circle cx="685.56" cy="591.20" r="4.45"/><circle cx="693.50" cy="591.34" r="4.45"/><circle cx="701.44" cy="591.50" r="4.45"/><circle cx="709.38" cy="591.72" r="4.45"/><circle cx="717.32" cy="592.00" r="4.45"/><circle cx="725.26" cy="592.28" r="4.45"/><circle cx="733.20" cy="592.50" r="4.45"/><circle cx="741.14" cy="592.66" r="4.45"/><circle cx="749.08" cy="592.81" r="4.45"/><circle cx="757.02" cy="592.94" r="4.45"/><circle cx="764.96" cy="593.07" r="4.45"/><circle cx="772.90" cy="593.18" r="4.45"/><circle cx="780.84" cy="593.29" r="4.45"/><circle cx="788.78" cy="593.40" r="4.45"/><circle cx="796.72" cy="593.51" r="4.45"/><circle cx="804.66" cy="593.62" r="4.45"/><circle cx="812.60" cy="593.75" r="4.45"/><circle cx="820.54" cy="593.88" r="4.45"/><circle cx="828.48" cy="594.02" r="4.45"/><circle cx="836.42" cy="594.15" r="4.45"/><circle cx="844.36" cy="594.29" r="4.45"/><circle cx="852.30" cy="594.43" r="4.45"/><circle cx="860.24" cy="594.57" r="4.45"/><circle cx="868.18" cy="594.71" r="4.45"/><circle cx="876.12" cy="594.86" r="4.45"/><circle cx="884.06" cy="595.00" r="4.45"/></g>
<g fill="#000000" stroke="none"><polyline points="98.00,623.00 105.94,622.63 113.88,622.26 121.82,621.88 129.76,621.50 137.70,621.10 145.64,620.70 153.58,620.30 161.52,619.89 169.46,619.47 177.40,619.04 185.34,618.60 193.28,618.17 201.22,617.72 209.16,617.28 217.10,616.82 225.04,616.36 232.98,615.90 240.92,615.43 248.86,614.96 256.80,614.50 264.74,614.06 272.68,613.63 280.62,613.22 288.56,612.81 296.50,612.37 304.44,611.90 312.38,611.38 320.32,610.80 328.26,610.04 336.20,609.20 344.14,608.43 352.08,607.66 360.02,606.91 367.96,606.19 375.90,605.50 383.84,604.85 391.78,604.23 399.72,603.63 407.66,603.06 415.60,602.50 423.54,601.94 431.48,601.39 439.42,600.86 447.36,600.39 455.30,600.00 463.24,599.66 471.18,599.32 479.12,599.03 487.06,598.83 495.00,598.75 502.94,598.77 510.88,598.83 518.82,598.91 526.76,599.01 534.70,599.10 542.64,599.20 550.58,599.31 558.52,599.43 566.46,599.58 574.40,599.75 582.34,599.97 590.28,600.26 598.22,600.59 606.16,600.93 614.10,601.25 622.04,601.55 629.98,601.85 637.92,602.15 645.86,602.45 653.80,602.75 661.74,603.06 669.68,603.39 677.62,603.72 685.56,604.03 693.50,604.29 701.44,604.50 709.38,604.65 717.32,604.77 725.26,604.88 733.20,605.00 741.14,605.13 749.08,605.25 757.02,605.38 764.96,605.51 772.90,605.63 780.84,605.76 788.78,605.89 796.72,606.01 804.66,606.13 812.60,606.25 820.54,606.37 828.48,606.48 836.42,606.60 844.36,606.71 852.30,606.82 860.24,606.93 868.18,607.04 876.12,607.14 884.06,607.25" fill="none" stroke="#000000" stroke-width="1.0"/><circle cx="98.00" cy="623.00" r="4.45"/><circle cx="105.94" cy="622.63" r="4.45"/><circle cx="113.88" cy="622.26" r="4.45"/><circle cx="121.82" cy="621.88" r="4.45"/><circle cx="129.76" cy="621.50" r="4.45"/><circle cx="137.70" cy="621.10" r="4.45"/><circle cx="145.64" cy="620.70" r="4.45"/><circle cx="153.58" cy="620.30" r="4.45"/><circle cx="161.52" cy="619.89" r="4.45"/><circle cx="169.46" cy="619.47" r="4.45"/><circle cx="177.40" cy="619.04" r="4.45"/><circle cx="185.34" cy="618.60" r="4.45"/><circle cx="193.28" cy="618.17" r="4.45"/><circle cx="201.22" cy="617.72" r="4.45"/><circle cx="209.16" cy="617.28" r="4.45"/><circle cx="217.10" cy="616.82" r="4.45"/><circle cx="225.04" cy="616.36" r="4.45"/><circle cx="232.98" cy="615.90" r="4.45"/><circle cx="240.92" cy="615.43" r="4.45"/><circle cx="248.86" cy="614.96" r="4.45"/><circle cx="256.80" cy="614.50" r="4.45"/><circle cx="264.74" cy="614.06" r="4.45"/><circle cx="272.68" cy="613.63" r="4.45"/><circle cx="280.62" cy="613.22" r="4.45"/><circle cx="288.56" cy="612.81" r="4.45"/><circle cx="296.50" cy="612.37" r="4.45"/><circle cx="304.44" cy="611.90" r="4.45"/><circle cx="312.38" cy="611.38" r="4.45"/><circle cx="320.32" cy="610.80" r="4.45"/><circle cx="328.26" cy="610.04" r="4.45"/><circle cx="336.20" cy="609.20" r="4.45"/><circle cx="344.14" cy="608.43" r="4.45"/><circle cx="352.08" cy="607.66" r="4.45"/><circle cx="360.02" cy="606.91" r="4.45"/><circle cx="367.96" cy="606.19" r="4.45"/><circle cx="375.90" cy="605.50" r="4.45"/><circle cx="383.84" cy="604.85" r="4.45"/><circle cx="391.78" cy="604.23" r="4.45"/><circle cx="399.72" cy="603.63" r="4.45"/><circle cx="407.66" cy="603.06" r="4.45"/><circle cx="415.60" cy="602.50" r="4.45"/><circle cx="423.54" cy="601.94" r="4.45"/><circle cx="431.48" cy="601.39" r="4.45"/><circle cx="439.42" cy="600.86" r="4.45"/><circle cx="447.36" cy="600.39" r="4.45"/><circle cx="455.30" cy="600.00" r="4.45"/><circle cx="463.24" cy="599.66" r="4.45"/><circle cx="471.18" cy="599.32" r="4.45"/><circle cx="479.12" cy="599.03" r="4.45"/><circle cx="487.06" cy="598.83" r="4.45"/><circle cx="495.00" cy="598.75" r="4.45"/><circle cx="502.94" cy="598.77" r="4.45"/><circle cx="510.88" cy="598.83" r="4.45"/><circle cx="518.82" cy="598.91" r="4.45"/><circle cx="526.76" cy="599.01" r="4.45"/><circle cx="534.70" cy="599.10" r="4.45"/><circle cx="542.64" cy="599.20" r="4.45"/><circle cx="550.58" cy="599.31" r="4.45"/><circle cx="558.52" cy="599.43" r="4.45"/><circle cx="566.46" cy="599.58" r="4.45"/><circle cx="574.40" cy="599.75" r="4.45"/><circle cx="582.34" cy="599.97" r="4.45"/><circle cx="590.28" cy="600.26" r="4.45"/><circle cx="598.22" cy="600.59" r="4.45"/><circle cx="606.16" cy="600.93" r="4.45"/><circle cx="614.10" cy="601.25" r="4.45"/><circle cx="622.04" cy="601.55" r="4.45"/><circle cx="629.98" cy="601.85" r="4.45"/><circle cx="637.92" cy="602.15" r="4.45"/><circle cx="645.86" cy="602.45" r="4.45"/><circle cx="653.80" cy="602.75" r="4.45"/><circle cx="661.74" cy="603.06" r="4.45"/><circle cx="669.68" cy="603.39" r="4.45"/><circle cx="677.62" cy="603.72" r="4.45"/><circle cx="685.56" cy="604.03" r="4.45"/><circle cx="693.50" cy="604.29" r="4.45"/><circle cx="701.44" cy="604.50" r="4.45"/><circle cx="709.38" cy="604.65" r="4.45"/><circle cx="717.32" cy="604.77" r="4.45"/><circle cx="725.26" cy="604.88" r="4.45"/><circle cx="733.20" cy="605.00" r="4.45"/><circle cx="741.14" cy="605.13" r="4.45"/><circle cx="749.08" cy="605.25" r="4.45"/><circle cx="757.02" cy="605.38" r="4.45"/><circle cx="764.96" cy="605.51" r="4.45"/><circle cx="772.90" cy="605.63" r="4.45"/><circle cx="780.84" cy="605.76" r="4.45"/><circle cx="788.78" cy="605.89" r="4.45"/><circle cx="796.72" cy="606.01" r="4.45"/><circle cx="804.66" cy="606.13" r="4.45"/><circle cx="812.60" cy="606.25" r="4.45"/><circle cx="820.54" cy="606.37" r="4.45"/><circle cx="828.48" cy="606.48" r="4.45"/><circle cx="836.42" cy="606.60" r="4.45"/><circle cx="844.36" cy="606.71" r="4.45"/><circle cx="852.30" cy="606.82" r="4.45"/><circle cx="860.24" cy="606.93" r="4.45"/><circle cx="868.18" cy="607.04" r="4.45"/><circle cx="876.12" cy="607.14" r="4.45"/><circle cx="884.06" cy="607.25" r="4.45"/></g>
<g fill="#ff4d00" stroke="none"><polyline points="98.00,631.50 105.94,631.12 113.88,630.74 121.82,630.35 129.76,629.95 137.70,629.54 145.64,629.12 153.58,628.70 161.52,628.27 169.46,627.83 177.40,627.38 185.34,626.92 193.28,626.46 201.22,625.99 209.16,625.51 217.10,625.02 225.04,624.52 232.98,624.02 240.92,623.51 248.86,623.00 256.80,622.50 264.74,622.01 272.68,621.54 280.62,621.06 288.56,620.58 296.50,620.06 304.44,619.50 312.38,618.89 320.32,618.24 328.26,617.53 336.20,616.75 344.14,615.87 352.08,614.89 360.02,613.84 367.96,612.78 375.90,611.75 383.84,610.76 391.78,609.78 399.72,608.80 407.66,607.79 415.60,606.75 423.54,605.61 431.48,604.39 439.42,603.16 447.36,602.01 455.30,601.00 463.24,600.11 471.18,599.30 479.12,598.70 487.06,598.23 495.00,598.00 502.94,598.06 510.88,598.20 518.82,598.39 526.76,598.65 534.70,599.00 542.64,599.51 550.58,600.21 558.52,601.00 566.46,601.97 574.40,603.00 582.34,603.94 590.28,604.84 598.22,605.70 606.16,606.52 614.10,607.29 622.04,608.00 629.98,608.65 637.92,609.27 645.86,609.82 653.80,610.30 661.74,610.72 669.68,611.10 677.62,611.45 685.56,611.75 693.50,612.00 701.44,612.20 709.38,612.37 717.32,612.52 725.26,612.66 733.20,612.80 741.14,612.95 749.08,613.10 757.02,613.25 764.96,613.40 772.90,613.55 780.84,613.69 788.78,613.81 796.72,613.93 804.66,614.02 812.60,614.10 820.54,614.17 828.48,614.23 836.42,614.29 844.36,614.34 852.30,614.39 860.24,614.43 868.18,614.47 876.12,614.49 884.06,614.50" fill="none" stroke="#ff4d00" stroke-width="1.0"/><circle cx="98.00" cy="631.50" r="4.45"/><circle cx="105.94" cy="631.12" r="4.45"/><circle cx="113.88" cy="630.74" r="4.45"/><circle cx="121.82" cy="630.35" r="4.45"/><circle cx="129.76" cy="629.95" r="4.45"/><circle cx="137.70" cy="629.54" r="4.45"/><circle cx="145.64" cy="629.12" r="4.45"/><circle cx="153.58" cy="628.70" r="4.45"/><circle cx="161.52" cy="628.27" r="4.45"/><circle cx="169.46" cy="627.83" r="4.45"/><circle cx="177.40" cy="627.38" r="4.45"/><circle cx="185.34" cy="626.92" r="4.45"/><circle cx="193.28" cy="626.46" r="4.45"/><circle cx="201.22" cy="625.99" r="4.45"/><circle cx="209.16" cy="625.51" r="4.45"/><circle cx="217.10" cy="625.02" r="4.45"/><circle cx="225.04" cy="624.52" r="4.45"/><circle cx="232.98" cy="624.02" r="4.45"/><circle cx="240.92" cy="623.51" r="4.45"/><circle cx="248.86" cy="623.00" r="4.45"/><circle cx="256.80" cy="622.50" r="4.45"/><circle cx="264.74" cy="622.01" r="4.45"/><circle cx="272.68" cy="621.54" r="4.45"/><circle cx="280.62" cy="621.06" r="4.45"/><circle cx="288.56" cy="620.58" r="4.45"/><circle cx="296.50" cy="620.06" r="4.45"/><circle cx="304.44" cy="619.50" r="4.45"/><circle cx="312.38" cy="618.89" r="4.45"/><circle cx="320.32" cy="618.24" r="4.45"/><circle cx="328.26" cy="617.53" r="4.45"/><circle cx="336.20" cy="616.75" r="4.45"/><circle cx="344.14" cy="615.87" r="4.45"/><circle cx="352.08" cy="614.89" r="4.45"/><circle cx="360.02" cy="613.84" r="4.45"/><circle cx="367.96" cy="612.78" r="4.45"/><circle cx="375.90" cy="611.75" r="4.45"/><circle cx="383.84" cy="610.76" r="4.45"/><circle cx="391.78" cy="609.78" r="4.45"/><circle cx="399.72" cy="608.80" r="4.45"/><circle cx="407.66" cy="607.79" r="4.45"/><circle cx="415.60" cy="606.75" r="4.45"/><circle cx="423.54" cy="605.61" r="4.45"/><circle cx="431.48" cy="604.39" r="4.45"/><circle cx="439.42" cy="603.16" r="4.45"/><circle cx="447.36" cy="602.01" r="4.45"/><circle cx="455.30" cy="601.00" r="4.45"/><circle cx="463.24" cy="600.11" r="4.45"/><circle cx="471.18" cy="599.30" r="4.45"/><circle cx="479.12" cy="598.70" r="4.45"/><circle cx="487.06" cy="598.23" r="4.45"/><circle cx="495.00" cy="598.00" r="4.45"/><circle cx="502.94" cy="598.06" r="4.45"/><circle cx="510.88" cy="598.20" r="4.45"/><circle cx="518.82" cy="598.39" r="4.45"/><circle cx="526.76" cy="598.65" r="4.45"/><circle cx="534.70" cy="599.00" r="4.45"/><circle cx="542.64" cy="599.51" r="4.45"/><circle cx="550.58" cy="600.21" r="4.45"/><circle cx="558.52" cy="601.00" r="4.45"/><circle cx="566.46" cy="601.97" r="4.45"/><circle cx="574.40" cy="603.00" r="4.45"/><circle cx="582.34" cy="603.94" r="4.45"/><circle cx="590.28" cy="604.84" r="4.45"/><circle cx="598.22" cy="605.70" r="4.45"/><circle cx="606.16" cy="606.52" r="4.45"/><circle cx="614.10" cy="607.29" r="4.45"/><circle cx="622.04" cy="608.00" r="4.45"/><circle cx="629.98" cy="608.65" r="4.45"/><circle cx="637.92" cy="609.27" r="4.45"/><circle cx="645.86" cy="609.82" r="4.45"/><circle cx="653.80" cy="610.30" r="4.45"/><circle cx="661.74" cy="610.72" r="4.45"/><circle cx="669.68" cy="611.10" r="4.45"/><circle cx="677.62" cy="611.45" r="4.45"/><circle cx="685.56" cy="611.75" r="4.45"/><circle cx="693.50" cy="612.00" r="4.45"/><circle cx="701.44" cy="612.20" r="4.45"/><circle cx="709.38" cy="612.37" r="4.45"/><circle cx="717.32" cy="612.52" r="4.45"/><circle cx="725.26" cy="612.66" r="4.45"/><circle cx="733.20" cy="612.80" r="4.45"/><circle cx="741.14" cy="612.95" r="4.45"/><circle cx="749.08" cy="613.10" r="4.45"/><circle cx="757.02" cy="613.25" r="4.45"/><circle cx="764.96" cy="613.40" r="4.45"/><circle cx="772.90" cy="613.55" r="4.45"/><circle cx="780.84" cy="613.69" r="4.45"/><circle cx="788.78" cy="613.81" r="4.45"/><circle cx="796.72" cy="613.93" r="4.45"/><circle cx="804.66" cy="614.02" r="4.45"/><circle cx="812.60" cy="614.10" r="4.45"/><circle cx="820.54" cy="614.17" r="4.45"/><circle cx="828.48" cy="614.23" r="4.45"/><circle cx="836.42" cy="614.29" r="4.45"/><circle cx="844.36" cy="614.34" r="4.45"/><circle cx="852.30" cy="614.39" r="4.45"/><circle cx="860.24" cy="614.43" r="4.45"/><circle cx="868.18" cy="614.47" r="4.45"/><circle cx="876.12" cy="614.49" r="4.45"/><circle cx="884.06" cy="614.50" r="4.45"/></g>
<g fill="#808080" stroke="none"><polyline points="98.00,637.00 105.94,636.71 113.88,636.40 121.82,636.09 129.76,635.76 137.70,635.42 145.64,635.06 153.58,634.70 161.52,634.32 169.46,633.93 177.40,633.52 185.34,633.10 193.28,632.67 201.22,632.22 209.16,631.77 217.10,631.31 225.04,630.83 232.98,630.33 240.92,629.83 248.86,629.32 256.80,628.80 264.74,628.30 272.68,627.82 280.62,627.33 288.56,626.80 296.50,626.20 304.44,625.50 312.38,624.50 320.32,623.50 328.26,622.50 336.20,621.25 344.14,620.00 352.08,618.75 360.02,617.25 367.96,615.75 375.90,614.00 383.84,612.00 391.78,609.75 399.72,607.75 407.66,604.75 415.60,601.25 423.54,597.50 431.48,593.50 439.42,588.25 447.36,582.00 455.30,575.00 463.24,567.00 471.18,558.25 479.12,549.10 487.06,542.25 495.00,540.20 502.94,542.30 510.88,548.90 518.82,557.50 526.76,566.00 534.70,574.00 542.64,580.75 550.58,586.25 558.52,590.75 566.46,594.75 574.40,598.50 582.34,601.25 590.28,604.00 598.22,606.25 606.16,608.00 614.10,609.75 622.04,611.25 629.98,612.50 637.92,613.50 645.86,614.50 653.80,615.25 661.74,616.00 669.68,616.50 677.62,617.00 685.56,617.50 693.50,618.00 701.44,618.25 709.38,618.40 717.32,618.51 725.26,618.61 733.20,618.70 741.14,618.79 749.08,618.88 757.02,618.97 764.96,619.06 772.90,619.14 780.84,619.22 788.78,619.29 796.72,619.36 804.66,619.43 812.60,619.50 820.54,619.56 828.48,619.63 836.42,619.69 844.36,619.75 852.30,619.80 860.24,619.86 868.18,619.91 876.12,619.95 884.06,620.00" fill="none" stroke="#808080" stroke-width="1.0"/><circle cx="98.00" cy="637.00" r="4.45"/><circle cx="105.94" cy="636.71" r="4.45"/><circle cx="113.88" cy="636.40" r="4.45"/><circle cx="121.82" cy="636.09" r="4.45"/><circle cx="129.76" cy="635.76" r="4.45"/><circle cx="137.70" cy="635.42" r="4.45"/><circle cx="145.64" cy="635.06" r="4.45"/><circle cx="153.58" cy="634.70" r="4.45"/><circle cx="161.52" cy="634.32" r="4.45"/><circle cx="169.46" cy="633.93" r="4.45"/><circle cx="177.40" cy="633.52" r="4.45"/><circle cx="185.34" cy="633.10" r="4.45"/><circle cx="193.28" cy="632.67" r="4.45"/><circle cx="201.22" cy="632.22" r="4.45"/><circle cx="209.16" cy="631.77" r="4.45"/><circle cx="217.10" cy="631.31" r="4.45"/><circle cx="225.04" cy="630.83" r="4.45"/><circle cx="232.98" cy="630.33" r="4.45"/><circle cx="240.92" cy="629.83" r="4.45"/><circle cx="248.86" cy="629.32" r="4.45"/><circle cx="256.80" cy="628.80" r="4.45"/><circle cx="264.74" cy="628.30" r="4.45"/><circle cx="272.68" cy="627.82" r="4.45"/><circle cx="280.62" cy="627.33" r="4.45"/><circle cx="288.56" cy="626.80" r="4.45"/><circle cx="296.50" cy="626.20" r="4.45"/><circle cx="304.44" cy="625.50" r="4.45"/><circle cx="312.38" cy="624.50" r="4.45"/><circle cx="320.32" cy="623.50" r="4.45"/><circle cx="328.26" cy="622.50" r="4.45"/><circle cx="336.20" cy="621.25" r="4.45"/><circle cx="344.14" cy="620.00" r="4.45"/><circle cx="352.08" cy="618.75" r="4.45"/><circle cx="360.02" cy="617.25" r="4.45"/><circle cx="367.96" cy="615.75" r="4.45"/><circle cx="375.90" cy="614.00" r="4.45"/><circle cx="383.84" cy="612.00" r="4.45"/><circle cx="391.78" cy="609.75" r="4.45"/><circle cx="399.72" cy="607.75" r="4.45"/><circle cx="407.66" cy="604.75" r="4.45"/><circle cx="415.60" cy="601.25" r="4.45"/><circle cx="423.54" cy="597.50" r="4.45"/><circle cx="431.48" cy="593.50" r="4.45"/><circle cx="439.42" cy="588.25" r="4.45"/><circle cx="447.36" cy="582.00" r="4.45"/><circle cx="455.30" cy="575.00" r="4.45"/><circle cx="463.24" cy="567.00" r="4.45"/><circle cx="471.18" cy="558.25" r="4.45"/><circle cx="479.12" cy="549.10" r="4.45"/><circle cx="487.06" cy="542.25" r="4.45"/><circle cx="495.00" cy="540.20" r="4.45"/><circle cx="502.94" cy="542.30" r="4.45"/><circle cx="510.88" cy="548.90" r="4.45"/><circle cx="518.82" cy="557.50" r="4.45"/><circle cx="526.76" cy="566.00" r="4.45"/><circle cx="534.70" cy="574.00" r="4.45"/><circle cx="542.64" cy="580.75" r="4.45"/><circle cx="550.58" cy="586.25" r="4.45"/><circle cx="558.52" cy="590.75" r="4.45"/><circle cx="566.46" cy="594.75" r="4.45"/><circle cx="574.40" cy="598.50" r="4.45"/><circle cx="582.34" cy="601.25" r="4.45"/><circle cx="590.28" cy="604.00" r="4.45"/><circle cx="598.22" cy="606.25" r="4.45"/><circle cx="606.16" cy="608.00" r="4.45"/><circle cx="614.10" cy="609.75" r="4.45"/><circle cx="622.04" cy="611.25" r="4.45"/><circle cx="629.98" cy="612.50" r="4.45"/><circle cx="637.92" cy="613.50" r="4.45"/><circle cx="645.86" cy="614.50" r="4.45"/><circle cx="653.80" cy="615.25" r="4.45"/><circle cx="661.74" cy="616.00" r="4.45"/><circle cx="669.68" cy="616.50" r="4.45"/><circle cx="677.62" cy="617.00" r="4.45"/><circle cx="685.56" cy="617.50" r="4.45"/><circle cx="693.50" cy="618.00" r="4.45"/><circle cx="701.44" cy="618.25" r="4.45"/><circle cx="709.38" cy="618.40" r="4.45"/><circle cx="717.32" cy="618.51" r="4.45"/><circle cx="725.26" cy="618.61" r="4.45"/><circle cx="733.20" cy="618.70" r="4.45"/><circle cx="741.14" cy="618.79" r="4.45"/><circle cx="749.08" cy="618.88" r="4.45"/><circle cx="757.02" cy="618.97" r="4.45"/><circle cx="764.96" cy="619.06" r="4.45"/><circle cx="772.90" cy="619.14" r="4.45"/><circle cx="780.84" cy="619.22" r="4.45"/><circle cx="788.78" cy="619.29" r="4.45"/><circle cx="796.72" cy="619.36" r="4.45"/><circle cx="804.66" cy="619.43" r="4.45"/><circle cx="812.60" cy="619.50" r="4.45"/><circle cx="820.54" cy="619.56" r="4.45"/><circle cx="828.48" cy="619.63" r="4.45"/><circle cx="836.42" cy="619.69" r="4.45"/><circle cx="844.36" cy="619.75" r="4.45"/><circle cx="852.30" cy="619.80" r="4.45"/><circle cx="860.24" cy="619.86" r="4.45"/><circle cx="868.18" cy="619.91" r="4.45"/><circle cx="876.12" cy="619.95" r="4.45"/><circle cx="884.06" cy="620.00" r="4.45"/></g>
<rect x="98.1" y="7.4" width="793.9" height="638.0" fill="none" stroke="#000" stroke-width="1.75"/>
<line x1="512.5" y1="538" x2="593" y2="456.5" stroke="#808080" stroke-width="2.6"/>
<line x1="630.5" y1="581.5" x2="749" y2="412" stroke="#ffff00" stroke-width="2.6"/>
<line x1="657.3" y1="599" x2="750.5" y2="456.6" stroke="#000" stroke-width="2.6"/>
<line x1="733.5" y1="610.5" x2="772.7" y2="501" stroke="#ff4d00" stroke-width="2.4"/>
<text class="s" x="124.92" y="421.2" font-size="27.8">30<tspan font-size="27" dx="-0.6" dy="-0.2">°</tspan></text>
<text class="s" x="124.64" y="507.5" font-size="27.8">50<tspan font-size="27" dx="-0.6" dy="-0.2">°</tspan></text>
<text class="s" x="124.42" y="550.3" font-size="27.8">70<tspan font-size="27" dx="-0.6" dy="-0.2">°</tspan></text>
<text class="s" x="125.36" y="584.1" font-size="27.8">90<tspan font-size="27" dx="-0.6" dy="-0.2">°</tspan></text>
<text class="s" x="749.65" y="405.5" font-size="27.8">110<tspan font-size="27" dx="-0.6" dy="-0.2">°</tspan></text>
<text class="s" x="749.65" y="449.6" font-size="27.8">130<tspan font-size="27" dx="-0.6" dy="-0.2">°</tspan></text>
<text class="s" x="749.65" y="493.9" font-size="27.8">150<tspan font-size="27" dx="-0.6" dy="-0.2">°</tspan></text>
<text class="s" x="592.35" y="462.5" font-size="27.8">170<tspan font-size="27" dx="-0.6" dy="-0.2">°</tspan></text>
<text class="s" font-size="28" font-style="italic" x="318.60" y="87.7">θ</text>
<text class="s" font-size="35.5" transform="translate(339.39,92.00) scale(1.13,1)">=</text>
<text class="s" x="368.85" y="87.7" font-size="27.8">130<tspan font-size="27" dx="-0.6" dy="-0.2">°</tspan></text>
<text class="s" font-size="28" font-style="italic" x="268.60" y="246.0">θ</text>
<text class="s" font-size="35.5" transform="translate(289.39,250.30) scale(1.13,1)">=</text>
<text class="s" x="318.85" y="246.0" font-size="27.8">170<tspan font-size="27" dx="-0.6" dy="-0.2">°</tspan></text>
<text class="s" font-size="28" font-style="italic" x="507.00" y="28.5">θ</text>
<text class="s" font-size="35.5" transform="translate(527.79,32.80) scale(1.13,1)">=</text>
<text class="s" x="558.81" y="28.5" font-size="27.8">90<tspan font-size="27" dx="-0.6" dy="-0.2">°</tspan></text>
<text class="s" font-size="28" font-style="italic" x="684.40" y="92.2">θ</text>
<text class="s" font-size="35.5" transform="translate(705.19,96.50) scale(1.13,1)">=</text>
<text class="s" x="735.49" y="92.2" font-size="27.8">50<tspan font-size="27" dx="-0.6" dy="-0.2">°</tspan></text>
<text class="s" font-size="28" font-style="italic" x="800.20" y="247.7">θ</text>
<text class="s" font-size="35.5" transform="translate(820.99,252.00) scale(1.13,1)">=</text>
<text class="s" x="850.45" y="247.7" font-size="27.8">10<tspan font-size="27" dx="-0.6" dy="-0.2">°</tspan></text>
<text class="s" font-size="28" font-style="italic" x="108.30" y="178.7">θ</text>
<text class="s" font-size="35.5" transform="translate(129.09,183.00) scale(1.13,1)">=</text>
<text class="s" x="158.55" y="178.7" font-size="27.8">10<tspan font-size="27" dx="-0.6" dy="-0.2">°</tspan></text>
<g class="s" font-size="36.0" transform="translate(26.9,0) rotate(-90)">
<text transform="translate(-618.89,0) scale(1.0700,1)" letter-spacing="0.534">Integrand</text>
<text transform="translate(-456.37,0) scale(1.0700,1)" letter-spacing="0.168">of</text>
<text transform="translate(-414.80,0) scale(1.0700,1)" letter-spacing="0.033">equation</text>
<text transform="translate(-265.55,0) scale(1.0440,1)" letter-spacing="0.000">(2a)</text>
<text transform="translate(-189.58,0) scale(1.0608,1)" letter-spacing="0.000">(real</text>
<text transform="translate(-107.62,0) scale(1.0700,1)" letter-spacing="1.332">part)</text>
</g>
<text class="s" font-size="41" font-style="italic" x="479" y="697.4">y</text>
<text class="s" font-size="28.5" x="498.5" y="702.7">1</text>
</svg>
</body></html>
